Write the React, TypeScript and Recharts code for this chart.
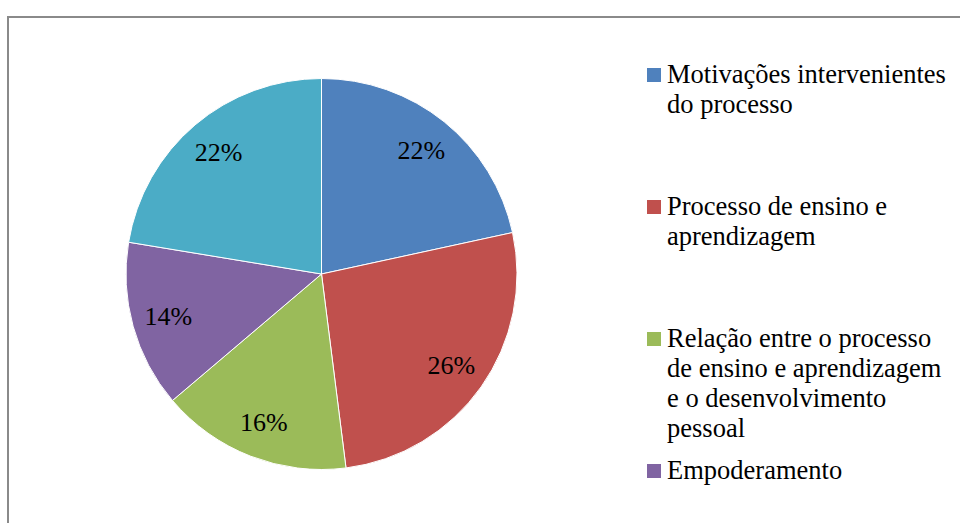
import React from "react";
import { PieChart, Pie, Cell, Legend } from "recharts";

const categories = [
  "Motivações intervenientes do processo",
  "Processo de ensino e aprendizagem",
  "Relação entre o processo de ensino e aprendizagem e o desenvolvimento pessoal",
  "Empoderamento",
  "",
];
const shares = [21.6, 26.4, 15.8, 13.8, 22.4];
const colors = ["#4F81BD", "#C0504D", "#9BBB59", "#8064A2", "#4BACC6"];

const data = categories.map((name, i) => ({ name, value: shares[i] }));

const FONT = "'Liberation Serif', 'Times New Roman', serif";
const LABEL_FS = 26;
const LEGEND_FS = 26.5;

const renderLabel = (props: any) => {
  const { cx, cy, midAngle, percent } = props;
  const RAD = Math.PI / 180;
  const r = 159;
  const x = Number(cx) + r * Math.cos(-midAngle * RAD);
  const y = Number(cy) + r * Math.sin(-midAngle * RAD);
  return (
    <text
      x={x}
      y={y}
      textAnchor="middle"
      dominantBaseline="central"
      fontFamily={FONT}
      fontSize={LABEL_FS}
      fill="#000"
    >
      {`${Math.round(percent * 100)}%`}
    </text>
  );
};

const renderLegend = () => (
  <div style={{ position: "relative", width: 960, height: 523 }}>
    {categories.map((name, i) =>
      name ? (
        <div key={i}>
          <div
            style={{
              position: "absolute",
              left: 647,
              top: 68 + 132 * i,
              width: 14,
              height: 14,
              background: colors[i],
            }}
          />
          <div
            style={{
              position: "absolute",
              left: 667,
              top: 59.1 + 132 * i,
              width: 286,
              fontFamily: FONT,
              fontSize: LEGEND_FS,
              lineHeight: "30px",
              color: "#000",
              textAlign: "left",
            }}
          >
            {name}
          </div>
        </div>
      ) : null
    )}
  </div>
);

export default function App() {
  return (
    <div
      style={{
        position: "absolute",
        left: 0,
        top: 0,
        width: 960,
        height: 523,
        overflow: "hidden",
        background: "#fff",
      }}
    >
      <div
        style={{
          position: "absolute",
          left: 7,
          top: 16,
          width: 1100,
          height: 700,
          borderTop: "2px solid #8a8a8a",
          borderLeft: "2px solid #8a8a8a",
          boxSizing: "border-box",
        }}
      />
      <div style={{ position: "absolute", left: 0, top: 0 }}>
        <PieChart width={960} height={523} margin={{ top: 0, right: 0, bottom: 0, left: 0 }}>
          <Pie
            data={data}
            dataKey="value"
            nameKey="name"
            cx={321.5}
            cy={274}
            outerRadius={195.5}
            startAngle={90}
            endAngle={-270}
            stroke="#ffffff"
            strokeWidth={1}
            label={renderLabel}
            labelLine={false}
            isAnimationActive={false}
          >
            {data.map((d, i) => (
              <Cell key={i} fill={colors[i]} />
            ))}
          </Pie>
          <Legend
            content={renderLegend}
            wrapperStyle={{ position: "absolute", left: 0, top: 0, width: 960, height: 523 }}
          />
        </PieChart>
      </div>
    </div>
  );
}
